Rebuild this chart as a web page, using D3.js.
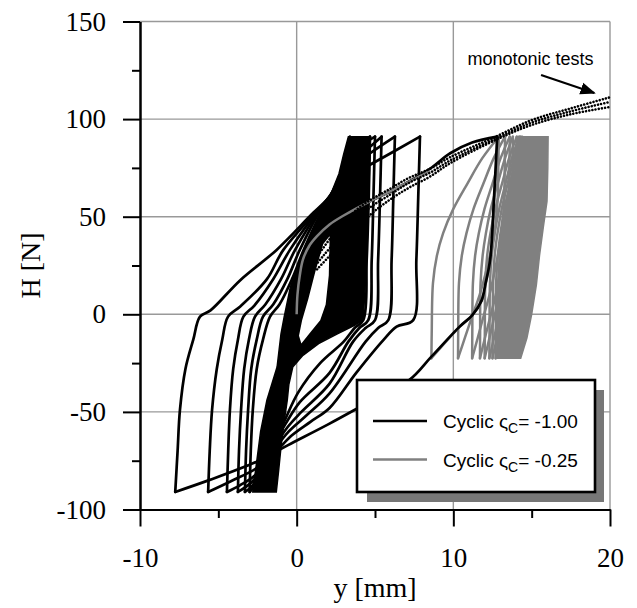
<!DOCTYPE html>
<html><head><meta charset="utf-8">
<script src="https://cdn.jsdelivr.net/npm/d3@7"></script>
<style>body{margin:0;background:#fff}svg{display:block}</style>
</head><body>
<svg id="c" width="637" height="608"></svg>
<script>
// ---- axes data ----
const xTicks = [-10, 0, 10, 20];
const xMinor = [-5, 5, 15];
const yTicks = [-100, -50, 0, 50, 100, 150];
const yMinor = [-75, -25, 25, 75, 125];
const xGrid = [0, 10, 20];
const yGrid = [-50, 0, 50, 100, 150];

// ---- cyclic ςC = -1.00 (black) ----
const blackLoading = [[0,0],[0.05,10],[0.2,20],[0.4,28],[0.8,35],[1.3,40],[2.1,46],[3.0,50.6],[4.7,58],[6.6,65.5],[8.5,74.5],[9.8,82.5],[11.2,88],[12.8,91]];
const blackBranches = [
  [[12.8,91],[12.6,60],[12.35,28],[12.06,16],[11.8,7],[11.2,-0.5],[10.4,-6.3],[8.6,-21.7],[7.2,-33.6],[4.6,-45],[2.1,-56],[-0.55,-67],[-1.6,-71.5],[-2.55,-75.5],[-5.5,-84.7],[-7.75,-91]],
  [[-7.75,-91],[-7.6,-70],[-7.45,-49],[-7.1,-28],[-6.6,-13],[-6.17,-1.2],[-5.5,2],[-3.6,17.5],[-1.28,33],[1.06,52],[2.1,60],[3.2,70],[5.0,78],[7.87,91]],
  [[7.87,91],[7.76,60],[7.64,28],[7.44,-3],[6.38,-6.3],[5.53,-13.2],[3.8,-30],[2.1,-48],[0.9,-55],[-0.3,-62],[-1.3,-70],[-2.6,-79],[-4.2,-85.5],[-5.65,-91]],
  [[-5.65,-91],[-5.55,-70],[-5.4,-49],[-5.1,-28],[-4.75,-13],[-4.38,-1.2],[-3.6,4],[-1.9,18],[-0.85,33],[1.3,53],[2.1,60],[3.3,74],[4.6,82],[6.27,91]],
  [[6.27,91],[6.17,60],[6.06,28],[5.85,-3],[5.2,-7],[4.4,-14],[2.1,-40.5],[0.6,-52],[-0.5,-60],[-1.5,-70],[-2.6,-82],[-3.6,-87.5],[-4.45,-91]],
  [[-4.45,-91],[-4.37,-70],[-4.26,-49],[-4.05,-28],[-3.75,-13],[-3.4,-1.2],[-2.7,4.5],[-1.5,18],[-0.43,33],[1.45,54],[2.1,60],[3.4,78],[4.4,84],[5.42,91]],
  [[5.42,91],[5.32,60],[5.2,28],[5.0,-3],[4.4,-7],[3.6,-14],[2.1,-35.5],[0.3,-50],[-0.6,-58],[-1.6,-70],[-2.75,-85],[-3.75,-91]],
  [[-3.75,-91],[-3.68,-70],[-3.55,-49],[-3.35,-28],[-3.05,-13],[-2.66,-1.2],[-2.0,5],[-1.0,18],[-0.1,33],[1.6,55],[2.2,61],[3.5,82],[5.0,91]],
  [[5.0,91],[4.9,60],[4.79,28],[4.57,-3],[4.0,-7],[3.3,-14],[2.1,-30],[0.2,-45],[-0.7,-56],[-1.7,-70],[-2.85,-88],[-3.3,-91]],
  [[-3.3,-91],[-3.23,-70],[-3.1,-49],[-2.9,-28],[-2.55,-13],[-2.15,-1.2],[-1.5,5],[-0.6,18],[0.2,33],[1.7,56],[2.3,63],[3.6,85],[4.68,91]],
  [[4.68,91],[4.6,60],[4.47,28],[4.25,-3],[3.7,-7],[3.0,-14],[1.5,-25],[0.1,-40],[-0.8,-55],[-1.8,-72],[-2.7,-88],[-3.0,-91]],
  [[-3.0,-91],[-2.93,-70],[-2.8,-49],[-2.55,-28],[-2.15,-13],[-1.7,-1.2],[-1.1,5],[-0.3,18],[0.45,33],[1.8,56],[2.5,66],[3.1,80],[3.4,91]]
];
// region swept by the many later (dense) black cycles
const blackBandOuter = [[-2.8,-91],[-2.3,-60],[-1.9,-44],[-1.25,-27],[-1.0,-10],[-0.8,-1.5],[-0.4,14],[0.3,30],[1.2,46],[2.1,60],[2.7,72],[3.0,82],[3.3,91],
  [4.7,91],[4.6,60],[4.47,28],[4.25,-3],[3.6,-6],[2.6,-10],[1.4,-15],[0.4,-21],[-0.25,-27],[-0.5,-36],[-0.6,-44],[-0.8,-55],[-1.0,-68],[-1.15,-80],[-1.3,-91]];
const blackBandHole = [[2.1,40],[2.05,20],[1.85,5],[1.5,-3],[0.9,-9],[0.3,-15],[0.15,-11],[0.35,-3],[0.75,8],[1.2,22],[1.7,36]];

// ---- cyclic ςC = -0.25 (grey) ----
const greyLoading = [[0,0],[0.05,10],[0.2,20],[0.4,28],[0.8,35],[1.3,40],[2.1,46],[3.0,50.6],[4.7,58],[6.6,65.5],[8.5,73.5],[9.8,80.5],[11.2,86],[12.85,91]];
const greyBranches = [
  [[12.85,91],[12.62,60],[12.37,28],[12.08,16],[11.82,7],[11.22,-0.5],[10.42,-6.3],[8.6,-22.5]],
  [[8.6,-22.5],[8.62,-10],[8.7,16],[8.95,30],[9.35,41.6],[10.0,54],[10.9,67],[11.85,80],[12.9,91]],
  [[12.9,91],[12.87,75],[12.82,58],[12.59,40],[12.15,24],[11.68,10],[11.18,-1.5],[10.74,-12],[10.3,-22.5]],
  [[10.3,-22.5],[10.31,-10],[10.36,16],[10.54,30],[10.84,41.6],[11.29,54],[11.92,67],[12.58,80],[13.3,91]],
  [[13.3,91],[13.28,75],[13.24,58],[13.05,40],[12.69,24],[12.31,10],[11.91,-1.5],[11.56,-12],[11.2,-22.5]],
  [[11.2,-22.5],[11.21,-10],[11.25,16],[11.39,30],[11.63,41.6],[11.99,54],[12.5,67],[13.02,80],[13.6,91]],
  [[13.6,91],[13.58,75],[13.54,58],[13.37,40],[13.05,24],[12.71,10],[12.35,-1.5],[12.02,-12],[11.7,-22.5]],
  [[11.7,-22.5],[11.71,-10],[11.74,16],[11.87,30],[12.08,41.6],[12.39,54],[12.83,67],[13.3,80],[13.8,91]],
  [[13.8,91],[13.78,75],[13.75,58],[13.58,40],[13.28,24],[12.95,10],[12.61,-1.5],[12.31,-12],[12.0,-22.5]],
  [[12.0,-22.5],[12.01,-10],[12.04,16],[12.16,30],[12.37,41.6],[12.68,54],[13.11,67],[13.56,80],[14.05,91]],
  [[14.05,91],[14.03,75],[14.0,58],[13.84,40],[13.54,24],[13.23,10],[12.9,-1.5],[12.6,-12],[12.3,-22.5]],
  [[12.3,-22.5],[12.31,-10],[12.34,16],[12.45,30],[12.64,41.6],[12.93,54],[13.33,67],[13.74,80],[14.2,91]],
  [[14.2,91],[14.18,75],[14.15,58],[14.0,40],[13.71,24],[13.4,10],[13.08,-1.5],[12.79,-12],[12.5,-22.5]],
  [[12.5,-22.5],[12.51,-10],[12.54,16],[12.64,30],[12.82,41.6],[13.09,54],[13.47,67],[13.87,80],[14.3,91]],
  [[14.3,91],[14.28,75],[14.25,58],[14.11,40],[13.84,24],[13.55,10],[13.24,-1.5],[12.97,-12],[12.7,-22.5]],
  [[12.7,-22.5],[12.71,-10],[12.73,16],[12.84,30],[13.01,41.6],[13.26,54],[13.62,67],[13.99,80],[14.4,91]]
];
const greyBand = [[12.8,-22.5],[12.81,-10],[12.83,16],[12.93,30],[13.1,41.6],[13.34,54],[13.69,67],[14.05,80],[14.45,91],
  [16.05,91],[16.03,75],[15.98,58],[15.75,45],[15.5,30],[15.3,15],[15.0,0],[14.7,-12],[14.3,-22.5]];

// ---- monotonic tests (dotted) ----
const mono1 = [[0.9,25],[1.3,29.5],[2.55,43],[4.05,55],[6.0,64.5],[7.2,70],[8.5,74.5],[9.8,80.5],[12.7,91],[15,99.5],[17.5,105.5],[20,111.2]];
const mono2 = [[1.1,24],[1.7,30],[2.9,41],[4.4,53],[6.0,61.5],[7.2,67.5],[8.5,72.5],[9.8,78.8],[12.7,90],[15,98.2],[17.5,104],[20,108.8]];
const mono3 = [[1.3,23],[2.0,29],[3.2,38.5],[4.7,51],[6.0,59],[7.2,65],[8.5,70.5],[9.8,77.4],[12.7,89.3],[15,97],[17.5,102.5],[20,106.2]];

const legendLabels = [{name:"Cyclic ", sym:"ς", sub:"C", val:"= -1.00", color:"#000"},
                      {name:"Cyclic ", sym:"ς", sub:"C", val:"= -0.25", color:"#808080"}];

// ---- drawing ----
const svg = d3.select("#c");
const x = d3.scaleLinear().domain([-10, 20]).range([140, 610]);
const y = d3.scaleLinear().domain([-100, 150]).range([509.5, 21.5]);

// grid
svg.append("g").selectAll("line").data(xGrid).join("line")
  .attr("x1", d => x(d)).attr("x2", d => x(d)).attr("y1", y(150)).attr("y2", y(-100))
  .attr("stroke", "#999").attr("stroke-width", 1.4);
svg.append("g").selectAll("line").data(yGrid).join("line")
  .attr("x1", x(-10)).attr("x2", x(20)).attr("y1", d => y(d)).attr("y2", d => y(d))
  .attr("stroke", "#999").attr("stroke-width", 1.4);

const line = d3.line().x(d => x(d[0])).y(d => y(d[1])).curve(d3.curveCatmullRom.alpha(0.5));
const poly = d3.line().x(d => x(d[0])).y(d => y(d[1])).curve(d3.curveLinearClosed);

const plot = svg.append("g");
// black initial loading
plot.append("path").attr("d", line(blackLoading)).attr("fill","none").attr("stroke","#000").attr("stroke-width",2.7);
// grey cycles
plot.append("path").attr("d", poly(greyBand)).attr("fill","#808080").attr("stroke","#808080").attr("stroke-width",1.5);
plot.append("g").selectAll("path").data(greyBranches).join("path")
  .attr("d", d => line(d)).attr("fill","none").attr("stroke","#808080").attr("stroke-width",2.5).attr("stroke-linecap","round");
// black cycles
plot.append("path").attr("d", poly(blackBandOuter)).attr("fill","#000").attr("stroke","#000").attr("stroke-width",1.5);
plot.append("path").attr("d", poly(blackBandHole)).attr("fill","#fff");
plot.append("g").selectAll("path").data(blackBranches).join("path")
  .attr("d", d => line(d)).attr("fill","none").attr("stroke","#000").attr("stroke-width",2.7).attr("stroke-linecap","round");
// grey initial loading on top
plot.append("path").attr("d", line(greyLoading.slice(0, 11))).attr("fill","none").attr("stroke","#808080").attr("stroke-width",2.5);
// monotonic tests
plot.append("g").selectAll("path").data([mono1, mono2, mono3]).join("path")
  .attr("d", d => line(d)).attr("fill","none").attr("stroke","#000").attr("stroke-width",2.6)
  .attr("stroke-linecap","round").attr("stroke-dasharray","0.01 3.2");

// axes
const serif = "'Liberation Serif','Times New Roman',serif";
const fmt = d => String(d);
const yAx = svg.append("g").attr("transform", `translate(${x(-10)},0)`)
  .call(d3.axisLeft(y).tickValues(yTicks).tickSize(17).tickSizeOuter(0).tickPadding(17).tickFormat(fmt));
const yAxMin = svg.append("g").attr("transform", `translate(${x(-10)},0)`)
  .call(d3.axisLeft(y).tickValues(yMinor).tickSize(8).tickSizeOuter(0).tickFormat(""));
const xAx = svg.append("g").attr("transform", `translate(0,${y(-100)})`)
  .call(d3.axisBottom(x).tickValues(xTicks).tickSize(17).tickSizeOuter(0).tickPadding(27).tickFormat(fmt));
const xAxMin = svg.append("g").attr("transform", `translate(0,${y(-100)})`)
  .call(d3.axisBottom(x).tickValues(xMinor).tickSize(8.5).tickSizeOuter(0).tickFormat(""));
[yAx, yAxMin, xAx, xAxMin].forEach(g => {
  g.selectAll("path.domain").attr("stroke","#000").attr("stroke-width",2);
  g.selectAll(".tick line").attr("stroke","#000").attr("stroke-width",2);
  g.selectAll("text").attr("font-family", serif).attr("font-size", 27).attr("fill","#000");
});
xAx.selectAll("text").attr("dy","0.5em");

svg.append("text").attr("x", (x(-10)+x(20))/2).attr("y", 597).attr("text-anchor","middle")
  .attr("font-family", serif).attr("font-size", 28).text("y [mm]");
svg.append("text").attr("transform", `translate(40,${(y(150)+y(-100))/2}) rotate(-90)`).attr("text-anchor","middle")
  .attr("font-family", serif).attr("font-size", 28).text("H [N]");

// annotation
const sans = "'Liberation Sans',Arial,sans-serif";
svg.append("defs").append("marker").attr("id","ah").attr("viewBox","0 0 10 10").attr("refX",9).attr("refY",5)
  .attr("markerWidth",7).attr("markerHeight",7).attr("orient","auto").attr("markerUnits","strokeWidth")
  .append("path").attr("d","M0,1 L10,5 L0,9 Z").attr("fill","#000");
svg.append("text").attr("x", x(10.9)).attr("y", y(127.5)).attr("font-family", sans).attr("font-size", 18).text("monotonic tests");
svg.append("line").attr("x1", x(15.6)).attr("y1", y(122.6)).attr("x2", x(19.0)).attr("y2", y(113.4))
  .attr("stroke","#000").attr("stroke-width",2.2).attr("marker-end","url(#ah)");

// legend
const lg = svg.append("g");
lg.append("rect").attr("x",367).attr("y",390).attr("width",237).attr("height",112).attr("fill","#777");
lg.append("rect").attr("x",357).attr("y",380).attr("width",238).attr("height",112).attr("fill","#fff").attr("stroke","#000").attr("stroke-width",2.6);
legendLabels.forEach((d, i) => {
  const yy = 421 + i * 38.5;
  lg.append("line").attr("x1",373).attr("x2",427).attr("y1",yy).attr("y2",yy).attr("stroke",d.color).attr("stroke-width",2.6);
  const t = lg.append("text").attr("x",443).attr("y",yy+7).attr("font-family",sans).attr("font-size",19).attr("fill","#000");
  t.append("tspan").text(d.name + d.sym);
  t.append("tspan").attr("dy",5).attr("font-size",14).text(d.sub);
  t.append("tspan").attr("dy",-5).text(d.val);
});
</script>
</body></html>
